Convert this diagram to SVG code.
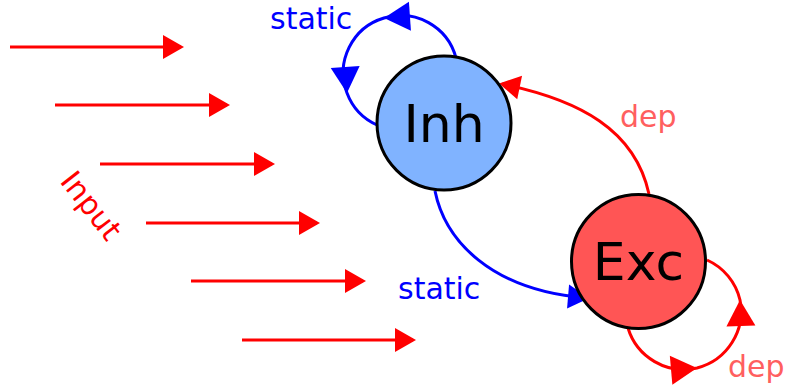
<svg xmlns="http://www.w3.org/2000/svg" width="785" height="390" viewBox="0 0 785 390">
<style>
.lbl{font-family:"DejaVu Sans",sans-serif;font-size:30px}
.node{font-family:"DejaVu Sans",sans-serif;font-size:52px;text-anchor:middle;fill:#000}
.red{stroke:#ff0000;stroke-width:3;fill:none}
.blue{stroke:#0000ff;stroke-width:3;fill:none}
circle{stroke:#000;stroke-width:3}
</style>
<defs>
<marker id="hr" markerUnits="userSpaceOnUse" markerWidth="22" markerHeight="24" refX="18" refY="12" orient="auto" overflow="visible"><path d="M0,0 L21,12 L0,24 z" fill="#ff0000"/></marker>
<marker id="hb" markerUnits="userSpaceOnUse" markerWidth="22" markerHeight="24" refX="18" refY="12" orient="auto" overflow="visible"><path d="M0,0 L21,12 L0,24 z" fill="#0000ff"/></marker>
<path id="lh" d="M-26,-14.5 L0,0 L-26,14.5 z"/>
</defs>
<g id="connectors">
<path class="red" d="M10,47 H181" marker-end="url(#hr)"/>
<path class="red" d="M55,105 H227" marker-end="url(#hr)"/>
<path class="red" d="M100,164 H272" marker-end="url(#hr)"/>
<path class="red" d="M146,223 H317" marker-end="url(#hr)"/>
<path class="red" d="M191,281 H363" marker-end="url(#hr)"/>
<path class="red" d="M242,340 H413" marker-end="url(#hr)"/>
<path class="blue" d="M456,58 A57,57 0 0 0 384,18 A57,57 0 0 0 347,93 A57,57 0 0 0 377,125"/>
<use href="#lh" fill="#0000ff" transform="translate(384,18) rotate(176)"/>
<use href="#lh" fill="#0000ff" transform="translate(347,93) rotate(86)"/>
<path class="blue" d="M435,191 C445,240 490,290 586,298" marker-end="url(#hb)"/>
<path class="red" d="M649,194 C635,130 580,100 502,84" marker-end="url(#hr)"/>
<path class="red" d="M628,328 A58.5,58.5 0 0 0 697,368 A58.5,58.5 0 0 0 740,300 A58.5,58.5 0 0 0 707,260"/>
<use href="#lh" fill="#ff0000" transform="translate(697,368) rotate(-5)"/>
<use href="#lh" fill="#ff0000" transform="translate(740,300) rotate(-92)"/>
<text class="lbl" x="270" y="29" fill="#0000ff">static</text>
<text class="lbl" x="398" y="299" fill="#0000ff">static</text>
<text class="lbl" x="620" y="127" fill="#ff5f5f">dep</text>
<text class="lbl" x="728" y="377" fill="#ff5f5f">dep</text>
<text class="lbl" x="83" y="212" fill="#ff0000" text-anchor="middle" transform="rotate(52 83 212)">Input</text>
</g>
<g id="inh">
<circle cx="444" cy="123" r="67" fill="#80b3ff"/>
<text class="node" x="444" y="142">Inh</text>
</g>
<g id="exc">
<circle cx="638.5" cy="261.5" r="67" fill="#ff5555"/>
<text class="node" x="638.5" y="280">Exc</text>
</g>
</svg>
